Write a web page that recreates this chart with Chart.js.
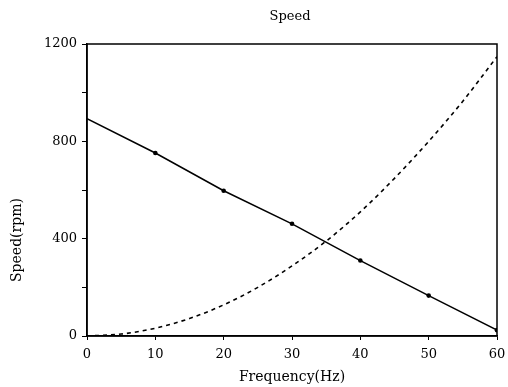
<!DOCTYPE html>
<html>
<head>
<meta charset="utf-8">
<script src="https://cdn.jsdelivr.net/npm/chart.js@4.4.0/dist/chart.umd.min.js"></script>
<style>
  html, body { margin: 0; padding: 0; background: #fff; }
  #wrap { width: 508px; height: 387px; }
</style>
</head>
<body>
<div id="wrap"><canvas id="myChart" width="508" height="387"></canvas></div>
<script>
'use strict';

// data
var freqPoints = [0, 10, 20, 30, 40, 50, 60];
var speedMeasured = [893, 752, 597, 461, 310, 166, 24];
var freqCurve = [0, 5, 10, 15, 20, 25, 30, 35, 40, 45, 50, 55, 60];
var speedCurve = [0, 8, 32, 72, 128, 200, 288, 390, 510, 648, 800, 965, 1148];
var yLabels = [0, 400, 800, 1200];

var fontName = '"DejaVu Serif", "Liberation Serif", serif';

function toXY(xs, ys) {
  var out = [];
  for (var i = 0; i < xs.length; i++) {
    out.push({ x: xs[i], y: ys[i] });
  }
  return out;
}

// box round the plot, the title and the y title, drawn on the canvas
var framePlugin = {
  id: 'frame',
  afterDraw: function (chart) {
    var ctx = chart.ctx;
    var a = chart.chartArea;
    ctx.save();
    ctx.strokeStyle = '#000';
    ctx.lineWidth = 1.5;
    ctx.strokeRect(a.left, a.top, a.right - a.left, a.bottom - a.top);
    ctx.fillStyle = '#000';
    ctx.textAlign = 'center';
    ctx.textBaseline = 'middle';
    ctx.font = '13px ' + fontName;
    ctx.fillText('Speed', (a.left + a.right) / 2 - 2, 17);
    ctx.translate(17, 240);
    ctx.rotate(-Math.PI / 2);
    ctx.font = '14px ' + fontName;
    ctx.fillText('Speed(rpm)', 0, 0);
    ctx.restore();
  }
};

var ctx = document.getElementById('myChart').getContext('2d');

var chart = new Chart(ctx, {
  type: 'line',
  data: {
    datasets: [{
      label: 'measured',
      data: toXY(freqPoints, speedMeasured),
      borderColor: '#000',
      backgroundColor: '#000',
      borderWidth: 1.5,
      pointRadius: [0, 2.3, 2.3, 2.3, 2.3, 2.3, 2.3],
      pointBorderWidth: 0,
      tension: 0
    },
    {
      label: 'curve',
      data: toXY(freqCurve, speedCurve),
      borderColor: '#000',
      borderWidth: 1.6,
      borderDash: [4, 4],
      pointRadius: 0,
      cubicInterpolationMode: 'monotone'
    }]
  },
  plugins: [framePlugin],
  options: {
    responsive: false,
    animation: false,
    layout: { padding: { left: 0, right: 11, top: 44, bottom: 0 } },
    plugins: {
      legend: { display: false },
      tooltip: { enabled: false },
      title: { display: false }
    },
    scales: {
      x: {
        type: 'linear',
        min: 0,
        max: 60,
        ticks: {
          stepSize: 10,
          color: '#000',
          padding: 7,
          font: { family: fontName, size: 13 }
        },
        grid: { drawOnChartArea: false, drawTicks: true, tickLength: 4, color: '#000' },
        border: { color: '#000', width: 1.5 },
        title: {
          display: true,
          text: 'Frequency(Hz)',
          color: '#000',
          font: { family: fontName, size: 14 },
          padding: { top: 0, bottom: 1 }
        },
        afterFit: function (scale) {
          scale.height = 51;
          scale.paddingLeft = 0;
          scale.paddingRight = 0;
        }
      },
      y: {
        min: 0,
        max: 1200,
        ticks: {
          stepSize: 200,
          color: '#000',
          padding: 5,
          font: { family: fontName, size: 13 },
          callback: function (v) {
            return yLabels.indexOf(v) >= 0 ? String(v) : '';
          }
        },
        grid: { drawOnChartArea: false, drawTicks: true, tickLength: 5, color: '#000' },
        border: { color: '#000', width: 1.5 },
        afterFit: function (scale) {
          scale.width = 87;
          scale.paddingTop = 0;
          scale.paddingBottom = 0;
        }
      }
    }
  }
});
</script>
</body>
</html>
